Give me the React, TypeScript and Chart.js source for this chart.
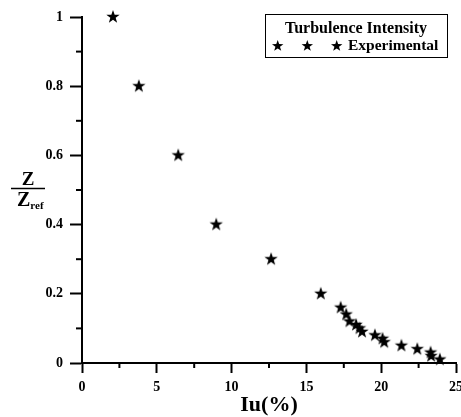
import React, { useEffect, useRef } from "react";
import { Chart, registerables } from "chart.js";

Chart.register(...registerables);

const seriesLabel = "Experimental";
const legendTitle = "Turbulence Intensity";
const xTitle = "Iu(%)";
const yTitleNum = "Z";
const yTitleDen = "Z";
const yTitleSub = "ref";

const iuValues = [2.07, 3.8, 6.43, 8.97, 12.64, 15.96, 17.29, 17.66, 17.88, 18.32, 18.55, 18.72, 19.58, 20.09, 20.2, 21.35, 22.41, 23.3, 23.34, 23.92];
const zValues = [1, 0.8, 0.6, 0.4, 0.3, 0.2, 0.16, 0.14, 0.12, 0.11, 0.1, 0.09, 0.08, 0.07, 0.06, 0.05, 0.04, 0.03, 0.02, 0.01];

const xMajorTicks = [0, 5, 10, 15, 20, 25];
const xMinorTicks = [2.5, 7.5, 12.5, 17.5, 22.5];
const yMajorTicks = [0, 0.2, 0.4, 0.6, 0.8, 1];
const yMinorTicks = [0.1, 0.3, 0.5, 0.7, 0.9];

const SERIF = "'Liberation Serif', 'Times New Roman', serif";

function starPath(ctx: CanvasRenderingContext2D, cx: number, cy: number, R: number) {
  const r = R * 0.4;
  ctx.beginPath();
  for (let i = 0; i < 10; i++) {
    const rad = i % 2 === 0 ? R : r;
    const a = -Math.PI / 2 + (i * Math.PI) / 5;
    const x = cx + rad * Math.cos(a);
    const y = cy + rad * Math.sin(a);
    if (i === 0) ctx.moveTo(x, y);
    else ctx.lineTo(x, y);
  }
  ctx.closePath();
}

function makeStar(R: number): HTMLCanvasElement {
  const size = Math.ceil(R * 2 + 2);
  const c = document.createElement("canvas");
  c.width = size;
  c.height = size;
  const ctx = c.getContext("2d")!;
  ctx.fillStyle = "#000";
  starPath(ctx, size / 2, size / 2, R);
  ctx.fill();
  return c;
}

const decorPlugin = {
  id: "decor",
  afterDraw(chart: any) {
    const ctx: CanvasRenderingContext2D = chart.ctx;
    const xs = chart.scales.x;
    const ys = chart.scales.y;
    const ca = chart.chartArea;
    ctx.save();
    ctx.strokeStyle = "#000";
    ctx.lineWidth = 2;
    // minor ticks
    xMinorTicks.forEach((v) => {
      const px = xs.getPixelForValue(v);
      ctx.beginPath();
      ctx.moveTo(px, ca.bottom);
      ctx.lineTo(px, ca.bottom + 5);
      ctx.stroke();
    });
    yMinorTicks.forEach((v) => {
      const py = ys.getPixelForValue(v);
      ctx.beginPath();
      ctx.moveTo(ca.left, py);
      ctx.lineTo(ca.left - 6, py);
      ctx.stroke();
    });
    // y title as fraction
    ctx.fillStyle = "#000";
    ctx.textBaseline = "alphabetic";
    ctx.textAlign = "center";
    ctx.font = `bold 19px ${SERIF}`;
    ctx.fillText(yTitleNum, 28, 185);
    ctx.lineWidth = 1.5;
    ctx.beginPath();
    ctx.moveTo(11, 188.5);
    ctx.lineTo(45, 188.5);
    ctx.stroke();
    ctx.font = `bold 20px ${SERIF}`;
    ctx.textAlign = "left";
    ctx.fillText(yTitleDen, 17, 206);
    const zw = ctx.measureText(yTitleDen).width;
    ctx.font = `bold 11px ${SERIF}`;
    ctx.fillText(yTitleSub, 17 + zw, 209);
    // legend
    const bx = 265, by = 14, bw = 182, bh = 43;
    ctx.lineWidth = 1;
    ctx.strokeRect(bx + 0.5, by + 0.5, bw, bh);
    ctx.font = `bold 16px ${SERIF}`;
    ctx.textAlign = "center";
    ctx.textBaseline = "middle";
    ctx.fillText(legendTitle, 356, 29);
    ctx.font = `bold 15.5px ${SERIF}`;
    ctx.textAlign = "left";
    ctx.fillText(chart.data.datasets[0].label, 348, 46);
    [277.7, 307.3, 336.7].forEach((sx) => {
      starPath(ctx, sx, 46, 6);
      ctx.fill();
    });
    ctx.restore();
  },
};

export default function App() {
  const ref = useRef<HTMLCanvasElement>(null);
  useEffect(() => {
    const star = makeStar(7);
    const chart = new Chart(ref.current!, {
      type: "scatter",
      data: {
        datasets: [
          {
            label: seriesLabel,
            data: iuValues.map((x, i) => ({ x, y: zValues[i] })),
            pointStyle: star as any,
            backgroundColor: "#000",
            borderColor: "#000",
            clip: false as any,
          },
        ],
      },
      options: {
        animation: false,
        responsive: false,
        events: [],
        layout: { padding: { top: 17, right: 2, bottom: 0, left: 0 } },
        plugins: { legend: { display: false }, tooltip: { enabled: false } },
        scales: {
          x: {
            type: "linear",
            min: 0,
            max: 25,
            afterBuildTicks: (s: any) => {
              s.ticks = xMajorTicks.map((v) => ({ value: v }));
            },
            afterFit: (s: any) => {
              s.height = 54;
              s.paddingLeft = 0;
              s.paddingRight = 0;
            },
            ticks: {
              color: "#000",
              font: { family: SERIF, size: 14, weight: "bold" },
              padding: 6,
              maxRotation: 0,
              autoSkip: false,
            },
            grid: { drawOnChartArea: false, drawTicks: true, tickLength: 10, tickWidth: 2, tickColor: "#000" },
            border: { display: true, width: 2, color: "#000" },
            title: {
              display: true,
              text: xTitle,
              color: "#000",
              font: { family: SERIF, size: 22, weight: "bold", lineHeight: 1 },
              padding: { top: 0, bottom: 1 },
            },
          },
          y: {
            type: "linear",
            min: 0,
            max: 1,
            afterBuildTicks: (s: any) => {
              s.ticks = yMajorTicks.map((v) => ({ value: v }));
            },
            afterFit: (s: any) => {
              s.width = 82;
            },
            ticks: {
              color: "#000",
              font: { family: SERIF, size: 14, weight: "bold" },
              padding: 7,
              callback: (v: any) => String(Math.round(Number(v) * 10) / 10),
            },
            grid: { drawOnChartArea: false, drawTicks: true, tickLength: 12, tickWidth: 2, tickColor: "#000" },
            border: { display: true, width: 2, color: "#000" },
          },
        },
      },
      plugins: [decorPlugin],
    });
    return () => chart.destroy();
  }, []);
  return (
    <div style={{ position: "absolute", left: 0, top: 0, width: 461, height: 417, background: "#fff" }}>
      <canvas ref={ref} width={461} height={417} style={{ width: 461, height: 417, display: "block" }} />
    </div>
  );
}
